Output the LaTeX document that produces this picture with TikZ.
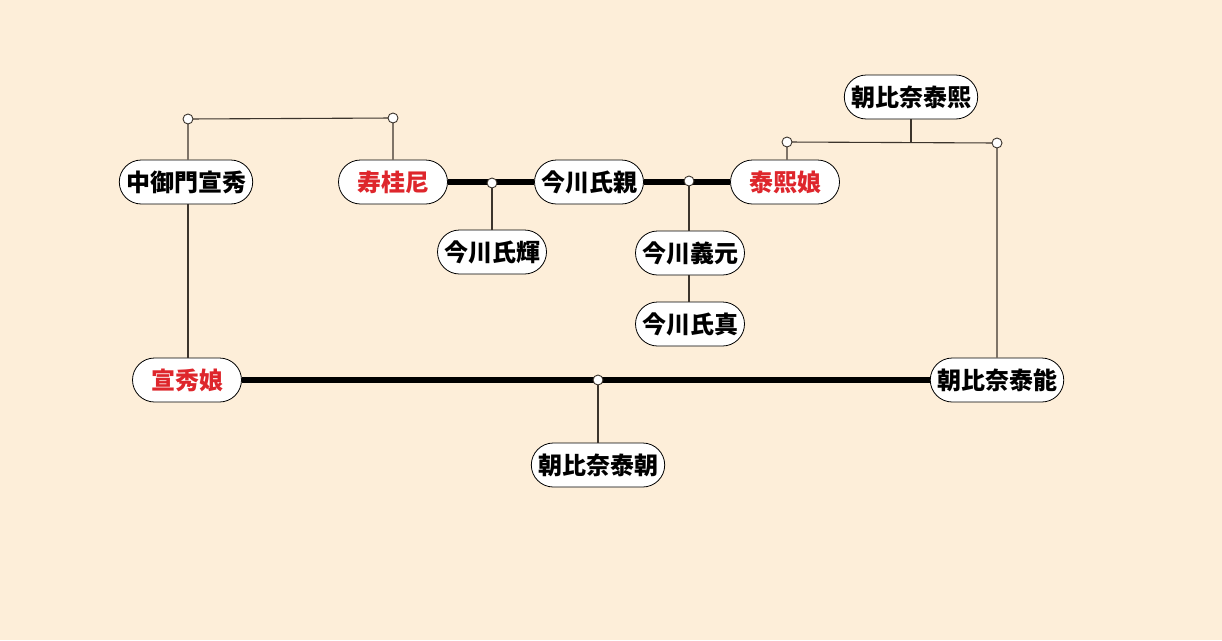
\documentclass[tikz,border=0pt]{standalone}
\usepackage{fontspec}
\newfontfamily\cjk{Noto Sans CJK JP}
\usetikzlibrary{shapes.misc}
\definecolor{bg}{RGB}{253,238,217}
\definecolor{redname}{RGB}{222,38,44}
\definecolor{ln}{RGB}{60,52,44}
\tikzset{
  person/.style={rounded rectangle, draw=black, line width=0.8pt, fill=white,
    minimum height=44pt, minimum width=116pt, inner xsep=3.5pt,
    font=\cjk\bfseries\fontsize{24}{26}\selectfont, text=black},
  female/.style={person, text=redname},
  thin/.style={draw=ln, line width=1.1pt},
  marriage/.style={draw=black, line width=5.5pt},
  dot/.style={circle, draw=ln, line width=0.9pt, fill=white, minimum size=10pt, inner sep=0pt}
}
\begin{document}
\begin{tikzpicture}[x=1pt,y=-1pt]
\fill[bg] (0,0) rectangle (1222,640);
\useasboundingbox (0,0) rectangle (1222,640);
% persons
\node[person] (nakami) at (186,182) {中御門宣秀};
\node[female] (jukei) at (393,182) {寿桂尼};
\node[person] (ujichika) at (589,182) {今川氏親};
\node[female] (hmusume) at (785,182) {泰熙娘};
\node[person] (ujiteru) at (492,252) {今川氏輝};
\node[person] (yoshimoto) at (690,253) {今川義元};
\node[person] (ujizane) at (690,324) {今川氏真};
\node[person] (yasuhiro) at (911,97) {朝比奈泰熙};
\node[female] (nmusume) at (187,380) {宣秀娘};
\node[person] (yasuyoshi) at (997,380) {朝比奈泰能};
\node[person] (yasutomo) at (598,465) {朝比奈泰朝};
% junction points
\coordinate (c1) at (188,119);
\coordinate (c2) at (393,118);
\coordinate (c3) at (787,142);
\coordinate (c4) at (997,143);
\coordinate (cj) at (911,142.5);
\coordinate (m1) at (492,183);
\coordinate (m2) at (689,181);
\coordinate (m3) at (598,380);
% lines
\draw[thin] (nakami.north -| c1) -- (c1) -- (c2) -- (jukei.north -| c2);
\draw[thin] (nakami.south -| c1) -- (nmusume.north -| c1);
\draw[thin] (yasuhiro.south) -- (cj);
\draw[thin] (hmusume.north -| c3) -- (c3) -- (c4) -- (yasuyoshi.north -| c4);
\draw[marriage] (jukei.east) -- (ujichika.west);
\draw[marriage] (ujichika.east) -- (hmusume.west);
\draw[marriage] (nmusume.east) -- (yasuyoshi.west);
\draw[thin] (m1) -- (ujiteru.north -| m1);
\draw[thin] (m2) -- (yoshimoto.north -| m2);
\draw[thin] (yoshimoto.south -| m2) -- (ujizane.north -| m2);
\draw[thin] (m3) -- (yasutomo.north -| m3);
% dots
\foreach \p in {c1,c2,c3,c4,m1,m2,m3} \node[dot] at (\p) {};
\end{tikzpicture}
\end{document}
